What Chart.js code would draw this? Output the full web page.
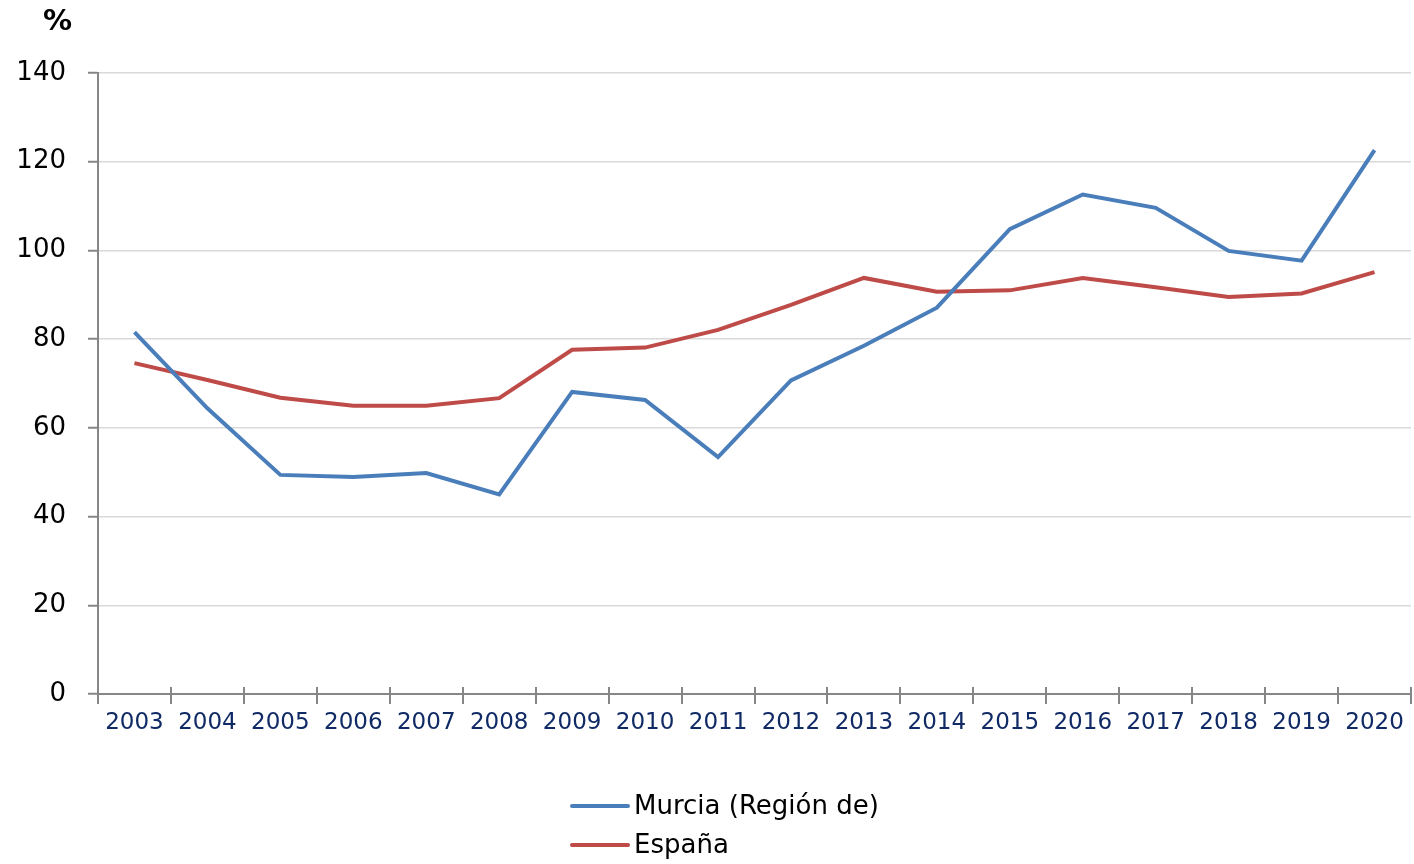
<!DOCTYPE html>
<html>
<head>
<meta charset="utf-8">
<script src="https://cdn.jsdelivr.net/npm/chart.js@4"></script>
<style>
html,body{margin:0;padding:0;background:#fff;}
#wrap{width:1414px;height:864px;position:relative;}
</style>
</head>
<body>
<div id="wrap"><canvas id="c" width="1414" height="864"></canvas></div>
<script>
const years = ['2003','2004','2005','2006','2007','2008','2009','2010','2011','2012','2013','2014','2015','2016','2017','2018','2019','2020'];
const murcia = [81.6,64.4,49.4,48.9,49.8,45.0,68.1,66.3,53.4,70.7,78.5,87.1,104.8,112.6,109.6,99.9,97.7,122.6];
const espana = [74.6,70.8,66.8,65.0,65.0,66.7,77.6,78.1,82.1,87.7,93.8,90.7,91.0,93.8,91.7,89.5,90.3,95.1];
const seriesNames = ['Murcia (Región de)','España'];
const seriesColors = ['#4A7EBB','#BE4B48'];
const yUnit = '%';

const FONT = "'DejaVu Sans', sans-serif";
const AXIS = '#868686';

const legendPlugin = {
  id: 'customLegend',
  afterDraw(chart) {
    const ctx = chart.ctx;
    ctx.save();
    // unit label
    ctx.font = "bold 29px " + FONT;
    ctx.fillStyle = '#000';
    ctx.textAlign = 'left';
    ctx.textBaseline = 'middle';
    ctx.fillText(yUnit, 43, 22);
    // x-axis tick marks extending above the axis
    const xs = chart.scales.x;
    ctx.strokeStyle = AXIS;
    ctx.lineWidth = 2;
    const n = chart.data.labels.length;
    for (let i = 0; i <= n; i++) {
      const x = Math.round(xs.left + (xs.right - xs.left) * i / n);
      ctx.beginPath();
      ctx.moveTo(x, xs.top - 7);
      ctx.lineTo(x, xs.top);
      ctx.stroke();
    }
    // legend
    const rows = [806, 845];
    chart.data.datasets.forEach((ds, i) => {
      const y = rows[i];
      ctx.strokeStyle = ds.borderColor;
      ctx.lineWidth = 4;
      ctx.lineCap = 'round';
      ctx.beginPath();
      ctx.moveTo(572, y);
      ctx.lineTo(628, y);
      ctx.stroke();
      ctx.font = "26px " + FONT;
      ctx.fillStyle = '#000';
      ctx.textAlign = 'left';
      ctx.textBaseline = 'middle';
      ctx.fillText(ds.label, 634, y + 1);
    });
    ctx.restore();
  }
};

new Chart(document.getElementById('c'), {
  type: 'line',
  data: {
    labels: years,
    datasets: [
      {label: seriesNames[0], data: murcia, borderColor: seriesColors[0], backgroundColor: seriesColors[0], borderWidth: 4, pointRadius: 0, tension: 0},
      {label: seriesNames[1], data: espana, borderColor: seriesColors[1], backgroundColor: seriesColors[1], borderWidth: 4, pointRadius: 0, tension: 0}
    ]
  },
  options: {
    responsive: false,
    animation: false,
    layout: {padding: {left: 0, right: 3, top: 73, bottom: 130}},
    plugins: {legend: {display: false}, tooltip: {enabled: false}},
    scales: {
      x: {
        offset: true,
        grid: {offset: true, drawOnChartArea: false, drawTicks: true, tickLength: 10, color: AXIS, lineWidth: 2},
        border: {color: AXIS, width: 2},
        ticks: {font: {family: FONT, size: 23}, color: '#102A65', padding: 5, maxRotation: 0, autoSkip: false},
        afterFit(s) { s.height = 40; }
      },
      y: {
        min: 0, max: 140,
        ticks: {stepSize: 20, font: {family: FONT, size: 26}, color: '#000', padding: 22},
        grid: {color: '#D9D9D9', lineWidth: 1.5, tickLength: 10, tickColor: AXIS, tickWidth: 2},
        border: {color: AXIS, width: 2},
        afterFit(s) { s.width = 98; }
      }
    }
  },
  plugins: [legendPlugin]
});
</script>
</body>
</html>
